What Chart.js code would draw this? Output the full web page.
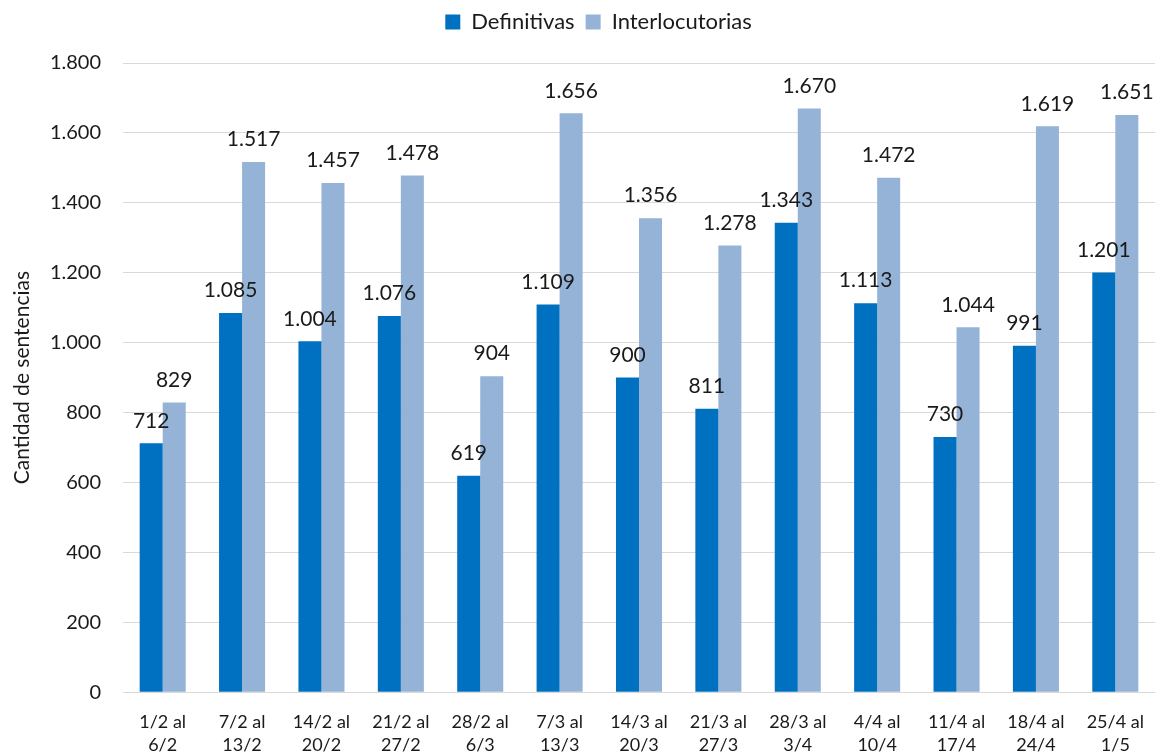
<!DOCTYPE html>
<html>
<head>
<meta charset="utf-8">
<script src="https://cdn.jsdelivr.net/npm/chart.js@4/dist/chart.umd.min.js"></script>
<style>
  html, body { margin: 0; padding: 0; background: #fff; }
  #wrap { width: 1157px; height: 755px; }
</style>
</head>
<body>
<div id="wrap"><canvas id="chart"></canvas></div>
<script>
const categories = [
  ['1/2 al', '6/2'], ['7/2 al', '13/2'], ['14/2 al', '20/2'], ['21/2 al', '27/2'],
  ['28/2 al', '6/3'], ['7/3 al', '13/3'], ['14/3 al', '20/3'], ['21/3 al', '27/3'],
  ['28/3 al', '3/4'], ['4/4 al', '10/4'], ['11/4 al', '17/4'], ['18/4 al', '24/4'],
  ['25/4 al', '1/5']
];
const definitivas = [712, 1085, 1004, 1076, 619, 1109, 900, 811, 1343, 1113, 730, 991, 1201];
const interlocutorias = [829, 1517, 1457, 1478, 904, 1656, 1356, 1278, 1670, 1472, 1044, 1619, 1651];

const fmt = v => String(v).replace(/\B(?=(\d{3})+(?!\d))/g, '.');
const FONT = 'Lato, "Open Sans", sans-serif';

// etiquetas de valor encima de cada barra
const valueLabels = {
  id: 'valueLabels',
  afterDatasetsDraw(chart) {
    const ctx = chart.ctx;
    ctx.save();
    ctx.font = '21px ' + FONT;
    ctx.fillStyle = '#1a1a1a';
    ctx.textAlign = 'center';
    ctx.textBaseline = 'bottom';
    chart.data.datasets.forEach((ds, i) => {
      chart.getDatasetMeta(i).data.forEach((bar, j) => {
        ctx.fillText(fmt(ds.data[j]), bar.x, bar.y - 12);
      });
    });
    ctx.restore();
  }
};

// espacio extra debajo de la leyenda y leyenda un poco a la derecha
const legendTweak = {
  id: 'legendTweak',
  beforeInit(chart) {
    const lg = chart.legend;
    const fit = lg.fit;
    lg.fit = function () {
      fit.bind(this)();
      this.height += 20;
    };
    const draw = lg.draw;
    lg.draw = function () {
      chart.ctx.save();
      chart.ctx.translate(18, 0);
      draw.bind(this)();
      chart.ctx.restore();
    };
  }
};

new Chart(document.getElementById('chart'), {
  type: 'bar',
  data: {
    labels: categories,
    datasets: [
      { label: 'Definitivas', data: definitivas, backgroundColor: '#0070C0' },
      { label: 'Interlocutorias', data: interlocutorias, backgroundColor: '#95B3D7' }
    ]
  },
  options: {
    responsive: true,
    maintainAspectRatio: false,
    animation: false,
    layout: { padding: { left: 6, right: 2, top: 0, bottom: 0 } },
    datasets: { bar: { barPercentage: 1, categoryPercentage: 0.58 } },
    scales: {
      x: {
        grid: { display: false },
        border: { display: false },
        ticks: { color: '#1a1a1a', font: { family: FONT, size: 18, lineHeight: 1.3 }, maxRotation: 0, autoSkip: false, padding: 10 },
        afterFit: s => { s.height -= 12; }
      },
      y: {
        min: 0, max: 1800,
        grid: { color: '#d9d9d9', drawTicks: false },
        border: { display: false },
        ticks: { stepSize: 200, color: '#1a1a1a', font: { family: FONT, size: 20 }, padding: 22, callback: v => fmt(v) },
        title: { display: true, text: 'Cantidad de sentencias', color: '#1a1a1a', font: { family: FONT, size: 21 }, padding: { top: 4, bottom: 4 } },
        afterFit: s => { s.width = 117; }
      }
    },
    plugins: {
      legend: {
        position: 'top',
        labels: { color: '#1a1a1a', font: { family: FONT, size: 22 }, boxWidth: 15, boxHeight: 15, padding: 11 }
      },
      tooltip: { enabled: false }
    }
  },
  plugins: [valueLabels, legendTweak]
});
</script>
</body>
</html>
